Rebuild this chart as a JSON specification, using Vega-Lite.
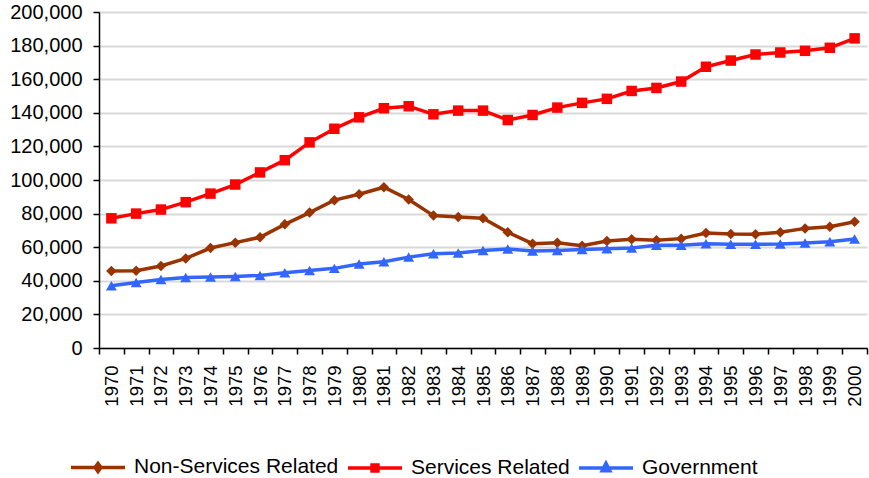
{
  "$schema": "https://vega.github.io/schema/vega-lite/v6.json",
  "width": 768,
  "height": 336,
  "autosize": {"type": "none"},
  "padding": {"left": 99, "top": 12, "right": 2, "bottom": 130},
  "background": "white",
  "config": {"view": {"stroke": null}, "font": "Liberation Sans"},
  "datasets": {
    "jobs": [
      {"year": "1970", "series": "Non-Services Related", "value": 45800},
      {"year": "1971", "series": "Non-Services Related", "value": 46000},
      {"year": "1972", "series": "Non-Services Related", "value": 48800},
      {"year": "1973", "series": "Non-Services Related", "value": 53300},
      {"year": "1974", "series": "Non-Services Related", "value": 59500},
      {"year": "1975", "series": "Non-Services Related", "value": 62700},
      {"year": "1976", "series": "Non-Services Related", "value": 65900},
      {"year": "1977", "series": "Non-Services Related", "value": 73600},
      {"year": "1978", "series": "Non-Services Related", "value": 80600},
      {"year": "1979", "series": "Non-Services Related", "value": 88000},
      {"year": "1980", "series": "Non-Services Related", "value": 91500},
      {"year": "1981", "series": "Non-Services Related", "value": 95700},
      {"year": "1982", "series": "Non-Services Related", "value": 88400},
      {"year": "1983", "series": "Non-Services Related", "value": 78800},
      {"year": "1984", "series": "Non-Services Related", "value": 78000},
      {"year": "1985", "series": "Non-Services Related", "value": 77200},
      {"year": "1986", "series": "Non-Services Related", "value": 68900},
      {"year": "1987", "series": "Non-Services Related", "value": 62100},
      {"year": "1988", "series": "Non-Services Related", "value": 62700},
      {"year": "1989", "series": "Non-Services Related", "value": 60900},
      {"year": "1990", "series": "Non-Services Related", "value": 63700},
      {"year": "1991", "series": "Non-Services Related", "value": 64700},
      {"year": "1992", "series": "Non-Services Related", "value": 64100},
      {"year": "1993", "series": "Non-Services Related", "value": 65100},
      {"year": "1994", "series": "Non-Services Related", "value": 68500},
      {"year": "1995", "series": "Non-Services Related", "value": 67900},
      {"year": "1996", "series": "Non-Services Related", "value": 67700},
      {"year": "1997", "series": "Non-Services Related", "value": 68900},
      {"year": "1998", "series": "Non-Services Related", "value": 71200},
      {"year": "1999", "series": "Non-Services Related", "value": 72200},
      {"year": "2000", "series": "Non-Services Related", "value": 75200},
      {"year": "1970", "series": "Services Related", "value": 77200},
      {"year": "1971", "series": "Services Related", "value": 80000},
      {"year": "1972", "series": "Services Related", "value": 82400},
      {"year": "1973", "series": "Services Related", "value": 86800},
      {"year": "1974", "series": "Services Related", "value": 91900},
      {"year": "1975", "series": "Services Related", "value": 97300},
      {"year": "1976", "series": "Services Related", "value": 104500},
      {"year": "1977", "series": "Services Related", "value": 111800},
      {"year": "1978", "series": "Services Related", "value": 122400},
      {"year": "1979", "series": "Services Related", "value": 130500},
      {"year": "1980", "series": "Services Related", "value": 137300},
      {"year": "1981", "series": "Services Related", "value": 142700},
      {"year": "1982", "series": "Services Related", "value": 143900},
      {"year": "1983", "series": "Services Related", "value": 139100},
      {"year": "1984", "series": "Services Related", "value": 141300},
      {"year": "1985", "series": "Services Related", "value": 141300},
      {"year": "1986", "series": "Services Related", "value": 135700},
      {"year": "1987", "series": "Services Related", "value": 138700},
      {"year": "1988", "series": "Services Related", "value": 143100},
      {"year": "1989", "series": "Services Related", "value": 145900},
      {"year": "1990", "series": "Services Related", "value": 148300},
      {"year": "1991", "series": "Services Related", "value": 153000},
      {"year": "1992", "series": "Services Related", "value": 154800},
      {"year": "1993", "series": "Services Related", "value": 158600},
      {"year": "1994", "series": "Services Related", "value": 167400},
      {"year": "1995", "series": "Services Related", "value": 171100},
      {"year": "1996", "series": "Services Related", "value": 174700},
      {"year": "1997", "series": "Services Related", "value": 175900},
      {"year": "1998", "series": "Services Related", "value": 176900},
      {"year": "1999", "series": "Services Related", "value": 178700},
      {"year": "2000", "series": "Services Related", "value": 184300},
      {"year": "1970", "series": "Government", "value": 37000},
      {"year": "1971", "series": "Government", "value": 39000},
      {"year": "1972", "series": "Government", "value": 40800},
      {"year": "1973", "series": "Government", "value": 42000},
      {"year": "1974", "series": "Government", "value": 42200},
      {"year": "1975", "series": "Government", "value": 42600},
      {"year": "1976", "series": "Government", "value": 43200},
      {"year": "1977", "series": "Government", "value": 44800},
      {"year": "1978", "series": "Government", "value": 46200},
      {"year": "1979", "series": "Government", "value": 47400},
      {"year": "1980", "series": "Government", "value": 50000},
      {"year": "1981", "series": "Government", "value": 51300},
      {"year": "1982", "series": "Government", "value": 54100},
      {"year": "1983", "series": "Government", "value": 56100},
      {"year": "1984", "series": "Government", "value": 56500},
      {"year": "1985", "series": "Government", "value": 58100},
      {"year": "1986", "series": "Government", "value": 58900},
      {"year": "1987", "series": "Government", "value": 57700},
      {"year": "1988", "series": "Government", "value": 58100},
      {"year": "1989", "series": "Government", "value": 58700},
      {"year": "1990", "series": "Government", "value": 59100},
      {"year": "1991", "series": "Government", "value": 59500},
      {"year": "1992", "series": "Government", "value": 61100},
      {"year": "1993", "series": "Government", "value": 61100},
      {"year": "1994", "series": "Government", "value": 62100},
      {"year": "1995", "series": "Government", "value": 61700},
      {"year": "1996", "series": "Government", "value": 61700},
      {"year": "1997", "series": "Government", "value": 61900},
      {"year": "1998", "series": "Government", "value": 62500},
      {"year": "1999", "series": "Government", "value": 63300},
      {"year": "2000", "series": "Government", "value": 64900}
    ]
  },
  "data": {"name": "jobs"},
  "encoding": {
    "x": {
      "field": "year",
      "type": "ordinal",
      "scale": {"type": "band", "paddingInner": 0, "paddingOuter": 0},
      "axis": {
        "title": null,
        "labelAngle": -90,
        "labelAlign": "right",
        "labelBaseline": "middle",
        "labelFontSize": 18.5,
        "labelColor": "black",
        "labelPadding": 11,
        "tickBand": "extent",
        "tickSize": 6,
        "tickColor": "black",
        "tickWidth": 1.5,
        "domainColor": "black",
        "domainWidth": 1.5,
        "grid": false
      }
    },
    "y": {
      "field": "value",
      "type": "quantitative",
      "scale": {"domain": [0, 200000], "nice": false},
      "axis": {
        "title": null,
        "values": [0, 20000, 40000, 60000, 80000, 100000, 120000, 140000, 160000, 180000, 200000],
        "format": ",.0f",
        "labelFontSize": 20,
        "labelColor": "black",
        "labelPadding": 11,
        "tickSize": 6,
        "tickColor": "black",
        "tickWidth": 1.5,
        "domainColor": "black",
        "domainWidth": 1.5,
        "gridColor": "#d9d9d9",
        "gridWidth": 2
      }
    },
    "color": {
      "field": "series",
      "type": "nominal",
      "scale": {
        "domain": ["Non-Services Related", "Services Related", "Government"],
        "range": ["#993300", "#ff0000", "#3366ff"]
      },
      "legend": {
        "orient": "none",
        "legendX": -30,
        "legendY": 426,
        "direction": "horizontal",
        "title": null,
        "padding": 0,
        "labelFontSize": 21,
        "labelColor": "black",
        "labelLimit": 400,
        "labelOffset": 7,
        "columnPadding": 2,
        "symbolSize": 2916,
        "symbolStrokeWidth": 3.5,
        "symbolOpacity": 1,
        "encode": {
          "symbols": {
            "update": {
              "shape": {"signal": "datum.value === 'Non-Services Related' ? 'M-1,0H1M0,-0.15L0.11,0L0,0.15L-0.11,0Z' : datum.value === 'Services Related' ? 'M-1,0H1M-0.11,-0.11H0.11V0.11H-0.11Z' : 'M-1,0H1M0,-0.17L0.14,0.1H-0.14Z'"},
              "fill": {"scale": "color", "field": "value"},
              "stroke": {"scale": "color", "field": "value"},
              "strokeWidth": {"value": 3.5},
              "size": {"value": 2916},
              "opacity": {"value": 1}
            }
          }
        }
      }
    }
  },
  "layer": [
    {"mark": {"type": "line", "strokeWidth": 3.5}},
    {
      "transform": [{"filter": {"field": "series", "equal": "Non-Services Related"}}],
      "mark": {"type": "point", "shape": "diamond", "filled": true, "opacity": 1, "size": 110}
    },
    {
      "transform": [{"filter": {"field": "series", "equal": "Services Related"}}],
      "mark": {"type": "point", "shape": "square", "filled": true, "opacity": 1, "size": 110}
    },
    {
      "transform": [{"filter": {"field": "series", "equal": "Government"}}],
      "mark": {"type": "point", "shape": "triangle-up", "filled": true, "opacity": 1, "size": 120}
    }
  ]
}
